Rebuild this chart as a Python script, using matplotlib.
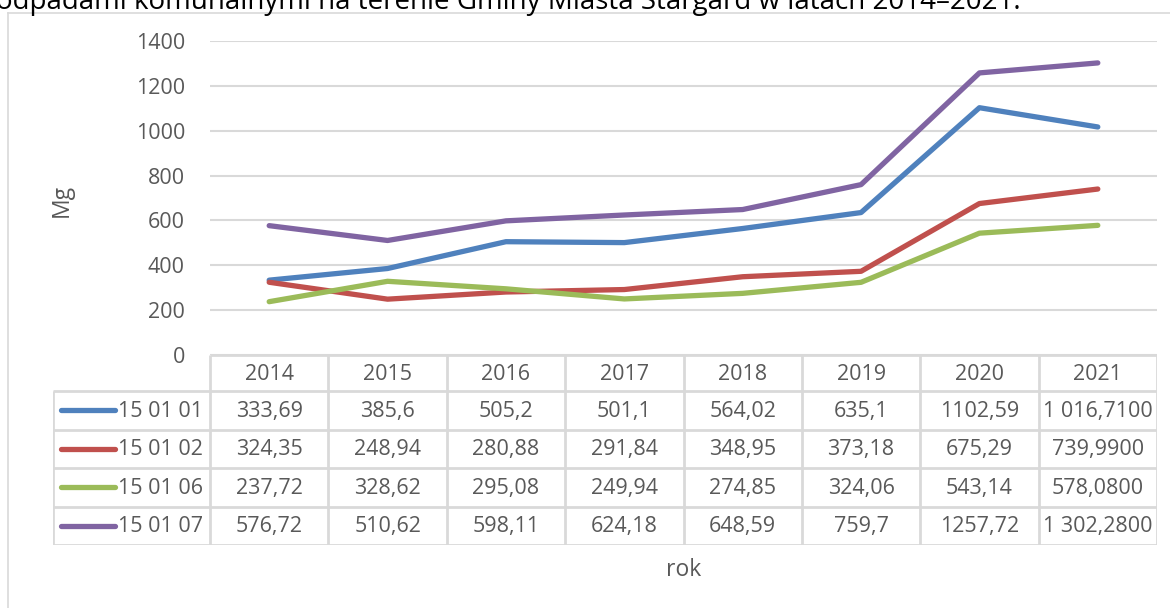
import numpy as np
import matplotlib.pyplot as plt
from matplotlib.lines import Line2D

plt.rcParams['font.family'] = ['Open Sans', 'DejaVu Sans']

years = ['2014', '2015', '2016', '2017', '2018', '2019', '2020', '2021']
series_names = ['15 01 01', '15 01 02', '15 01 06', '15 01 07']
v_150101 = [333.69, 385.6, 505.2, 501.1, 564.02, 635.1, 1102.59, 1016.71]
v_150102 = [324.35, 248.94, 280.88, 291.84, 348.95, 373.18, 675.29, 739.99]
v_150106 = [237.72, 328.62, 295.08, 249.94, 274.85, 324.06, 543.14, 578.08]
v_150107 = [576.72, 510.62, 598.11, 624.18, 648.59, 759.7, 1257.72, 1302.28]
colors = ['#4F81BD', '#C0504D', '#9BBB59', '#8064A2']
series = [v_150101, v_150102, v_150106, v_150107]

TXT = '#595959'
GRID = '#D9D9D9'
W, H = 1170, 608
FS = 15.5


def fx(px):
    return px / W


def fy(py):
    return 1 - py / H


def fmt(v, yr):
    if yr == '2021':
        return f"{v:,.4f}".replace(',', ' ').replace('.', ',')
    return f"{v:g}".replace('.', ',')


fig = plt.figure(figsize=(11.7, 6.08), dpi=100)

# chart frame (partially outside the image)
fig.add_artist(Line2D([fx(7.5), fx(7.5)], [fy(12.5), fy(620)], color=GRID, lw=1.2))
fig.add_artist(Line2D([fx(7.5), fx(1175)], [fy(12.5), fy(12.5)], color=GRID, lw=1.2))

# cut-off caption above the chart
fig.text(fx(-4), fy(9.5), 'odpadami komunalnymi na terenie Gminy Miasta Stargard w latach 2014\u20132021.',
         fontsize=20, color='black', va='baseline', ha='left')

# plot area
x0, x1, ytop, ybot = 210, 1157, 41, 355
ax = fig.add_axes([fx(x0), fy(ybot), fx(x1 - x0), (ybot - ytop) / H])
x = np.arange(len(years))
for vals, c in zip(series, colors):
    ax.plot(x, vals, color=c, lw=3.8, solid_capstyle='round', solid_joinstyle='round', zorder=3)
ax.set_xlim(-0.5, len(years) - 0.5)
ax.set_ylim(0, 1400)
ax.set_yticks(range(0, 1401, 200))
ax.grid(axis='y', color=GRID, lw=1.5)
ax.set_axisbelow(True)
for s in ax.spines.values():
    s.set_visible(False)
ax.tick_params(axis='y', length=0, labelsize=FS, labelcolor=TXT, pad=18)
ax.tick_params(axis='x', length=0, labelbottom=False)
fig.text(fx(62), fy(200), 'Mg', rotation=90, ha='center', va='center', fontsize=FS + 1, color=TXT)

# data table below the plot area
colw = (x1 - x0) / len(years)
left_px = 53
tleft = -0.5 - (x0 - left_px) / colw
tb_top, hdr_bot, tb_bot = 355, 391, 545
tax = fig.add_axes([fx(left_px), fy(tb_bot), fx(x1 - left_px), (tb_bot - tb_top) / H])
tax.set_xlim(tleft, len(years) - 0.5)
tax.set_ylim(tb_bot, tb_top)
tax.axis('off')
row_h = (tb_bot - hdr_bot) / len(series)
lk = dict(color=GRID, lw=2, solid_capstyle='butt')
tax.plot([-0.5, len(years) - 0.5], [tb_top, tb_top], **lk)
for i in range(len(years) + 1):
    tax.plot([i - 0.5, i - 0.5], [tb_top, tb_bot], **lk)
tax.plot([tleft, tleft], [hdr_bot, tb_bot], **lk)
for r in range(len(series) + 1):
    yy = hdr_bot + r * row_h
    tax.plot([tleft, len(years) - 0.5], [yy, yy], **lk)
for i, yr in enumerate(years):
    tax.text(i, (tb_top + hdr_bot) / 2 + 1, yr, ha='center', va='center', fontsize=FS, color=TXT)
for r, (name, vals, c) in enumerate(zip(series_names, series, colors)):
    yc = hdr_bot + (r + 0.5) * row_h
    tax.plot([tleft + 0.07, tleft + 0.52], [yc, yc], color=c, lw=3.8, solid_capstyle='round')
    tax.text(tleft + 0.55, yc + 1, name, ha='left', va='center', fontsize=FS, color=TXT)
    for i, yr in enumerate(years):
        tax.text(i, yc + 1, fmt(vals[i], yr), ha='center', va='center', fontsize=FS, color=TXT)

fig.text(fx(684), fy(570), 'rok', ha='center', va='center', fontsize=FS + 1, color=TXT)

fig.savefig('out.png', dpi=100)
